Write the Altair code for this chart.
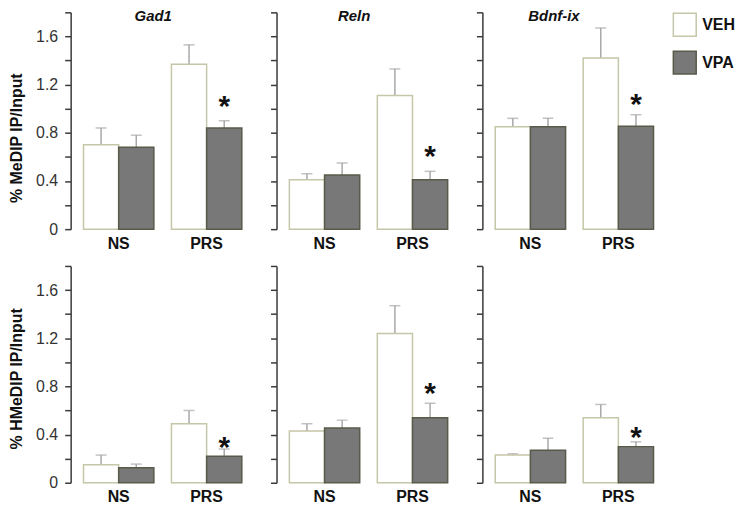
import altair as alt
import pandas as pd

FONT = "Liberation Sans"

genes = ["Gad1", "Reln", "Bdnf-ix"]
conditions = ["NS", "PRS"]
treatments = ["VEH", "VPA"]
row_titles = ["% MeDIP IP/Input", "% HMeDIP IP/Input"]

# bar order in each list: NS-VEH, NS-VPA, PRS-VEH, PRS-VPA
medip_gad1 = [0.70, 0.68, 1.37, 0.84]
medip_gad1_sem = [0.14, 0.10, 0.16, 0.06]
medip_reln = [0.41, 0.45, 1.11, 0.41]
medip_reln_sem = [0.05, 0.10, 0.22, 0.07]
medip_bdnf = [0.85, 0.85, 1.42, 0.855]
medip_bdnf_sem = [0.07, 0.07, 0.25, 0.095]

hmedip_gad1 = [0.15, 0.125, 0.49, 0.22]
hmedip_gad1_sem = [0.08, 0.03, 0.11, 0.06]
hmedip_reln = [0.43, 0.455, 1.24, 0.54]
hmedip_reln_sem = [0.06, 0.065, 0.23, 0.12]
hmedip_bdnf = [0.23, 0.27, 0.54, 0.30]
hmedip_bdnf_sem = [0.01, 0.10, 0.11, 0.04]

# asterisk level (significance marker over PRS-VPA)
medip_star = [1.06, 0.65, 1.08]
hmedip_star = [0.34, 0.79, 0.42]

means = [[medip_gad1, medip_reln, medip_bdnf], [hmedip_gad1, hmedip_reln, hmedip_bdnf]]
sems = [[medip_gad1_sem, medip_reln_sem, medip_bdnf_sem],
        [hmedip_gad1_sem, hmedip_reln_sem, hmedip_bdnf_sem]]
stars = [medip_star, hmedip_star]

# styling
fill_colors = ["#ffffff", "#787878"]
stroke_colors = ["#c6c6a8", "#5a5a4a"]
err_color = "#a8a8a8"
axis_color = "#3a3a3a"
tick_values = [round(i * 0.2, 1) for i in range(10)]
title_x = [83, 78, 72]          # gene-title centre, px from panel's left edge
axis_title_y = [126, 113]       # y-axis title centre, px from panel top
PW, PH = 185, 218

legend = alt.Legend(title=None)


def panel(r, g):
    m = means[r][g]
    s = sems[r][g]
    df = pd.DataFrame({
        "cond": [c for c in conditions for _ in treatments],
        "treat": treatments * len(conditions),
        "mean": m,
        "upper": [a + b for a, b in zip(m, s)],
    })
    star_df = pd.DataFrame({"cond": ["PRS"], "treat": ["VPA"], "star": [stars[r][g]]})

    xenc = alt.X("cond:N",
                 scale=alt.Scale(domain=conditions, paddingInner=0.2, paddingOuter=0.146),
                 axis=alt.Axis(title=None, domain=False, ticks=False, labelAngle=0,
                               labelFontSize=16, labelFontWeight="bold", labelPadding=6,
                               labelColor="#111", labelFont=FONT))
    xoff = alt.XOffset("treat:N", scale=alt.Scale(domain=treatments, paddingInner=0, paddingOuter=0))
    yscale = alt.Scale(domain=[0, 1.8], nice=False, zero=True)
    yaxis = alt.Axis(
        values=tick_values,
        labels=(g == 0),
        labelExpr="datum.value == 0 ? '0' : (round(datum.value*10) % 4 == 0 && datum.value < 1.7 ? format(datum.value, '.1f') : '')",
        labelOverlap=False,
        labelFontSize={"condition": {"test": "datum.value > 1.7", "value": 0}, "value": 16},
        labelColor="#333", labelFont=FONT, labelPadding=7,
        title=row_titles[r] if g == 0 else None,
        titleFontSize=16, titleFontWeight="bold", titleColor="#111", titleFont=FONT,
        titlePadding=11, titleY=axis_title_y[r],
        grid=False, domainColor=axis_color, domainWidth=1.5,
        tickColor=axis_color, tickWidth=1.5, tickSize=6,
    )

    bars = alt.Chart(df).mark_bar(strokeWidth=1.5).encode(
        x=xenc, xOffset=xoff,
        y=alt.Y("mean:Q", scale=yscale, axis=yaxis),
        fill=alt.Fill("treat:N", scale=alt.Scale(domain=treatments, range=fill_colors), legend=legend),
        stroke=alt.Stroke("treat:N", scale=alt.Scale(domain=treatments, range=stroke_colors), legend=legend),
    )
    err = alt.Chart(df).mark_rule(color=err_color, strokeWidth=1.5).encode(
        x=xenc, xOffset=xoff,
        y=alt.Y("mean:Q", scale=yscale, axis=yaxis), y2="upper:Q",
    )
    cap = alt.Chart(df).mark_tick(color=err_color, size=11, thickness=1.5).encode(
        x=xenc, xOffset=xoff,
        y=alt.Y("upper:Q", scale=yscale, axis=yaxis),
    )
    star = alt.Chart(star_df).mark_text(text="*", fontSize=30, fontWeight="bold",
                                        baseline="middle", dy=6, color="#111", font=FONT).encode(
        x=xenc, xOffset=xoff,
        y=alt.Y("star:Q", scale=yscale, axis=yaxis),
    )
    layers = [err, cap, bars, star]
    if r == 0:
        gene_title = alt.Chart(pd.DataFrame({"gene": [genes[g]]})).mark_text(
            fontSize=15, fontWeight="bold", fontStyle="italic", baseline="middle",
            align="center", color="#111", font=FONT,
        ).encode(text="gene:N", x=alt.value(title_x[g]), y=alt.value(4))
        layers.append(gene_title)
    return alt.layer(*layers).properties(width=PW, height=PH)


panels = [panel(r, g) for r in range(2) for g in range(3)]

chart = alt.concat(*panels, columns=3, spacing=alt.RowColnumber(row=37, column=22)).properties(
    bounds="flush",
    padding={"left": 0, "top": 0, "right": 0, "bottom": 0},
).resolve_scale(fill="shared", stroke="shared").configure(
    font=FONT
).configure_view(stroke=None).configure_legend(
    orient="right", offset=6, symbolType="square", symbolSize=529, symbolStrokeWidth=1.5,
    labelFontSize=16, labelFontWeight="bold", labelColor="#111", labelFont=FONT,
    rowPadding=9, labelOffset=5, padding=0,
)

chart.save("out.html", embed_options={"renderer": "svg", "actions": False})
